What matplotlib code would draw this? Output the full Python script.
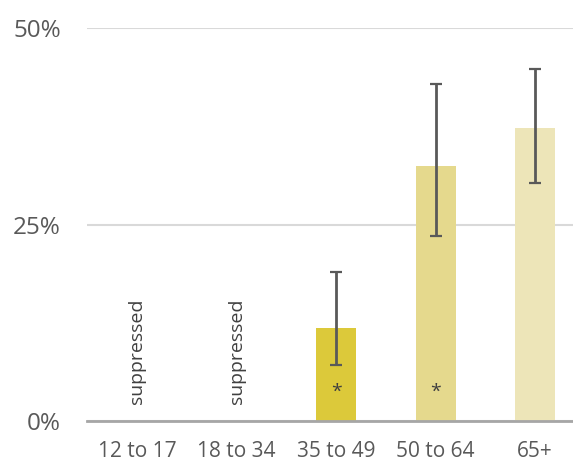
import matplotlib
matplotlib.use("Agg")
import matplotlib.pyplot as plt
import numpy as np

categories = ["12 to 17", "18 to 34", "35 to 49", "50 to 64", "65+"]
values = [np.nan, np.nan, 11.8, 32.4, 37.2]
err_low = [np.nan, np.nan, 7.1, 23.6, 30.3]
err_high = [np.nan, np.nan, 19.0, 42.8, 44.8]
suppressed = [True, True, False, False, False]
flagged = [False, False, True, True, False]
bar_colors = ["#DCC93A", "#DCC93A", "#DCC93A", "#E5D98D", "#EDE5B8"]
yticks = [0, 25, 50]
ytick_labels = ["0%", "25%", "50%"]

plt.rcParams['font.family'] = ['Open Sans', 'DejaVu Sans']
W, H = 573, 472
fig = plt.figure(figsize=(W/100, H/100), dpi=100)
left, right, y0, y50 = 86.7, 573, 421.3, 27.7
ax = fig.add_axes([left/W, 1 - y0/H, (right-left)/W, (y0-y50)/H])

x = np.arange(len(categories))
vals = np.array(values, dtype=float)
lo = np.array(err_low, dtype=float)
hi = np.array(err_high, dtype=float)
ax.bar(x, np.nan_to_num(vals), width=0.4, color=bar_colors, zorder=2)
mask = ~np.isnan(vals)
ax.errorbar(x[mask], vals[mask], yerr=[vals[mask]-lo[mask], hi[mask]-vals[mask]],
            fmt='none', ecolor="#595959", elinewidth=2, capsize=4.4, capthick=1.6, zorder=3)

for i in range(len(categories)):
    if suppressed[i]:
        ax.text(x[i], 2.2, "suppressed", rotation=90, ha='center', va='bottom',
                fontsize=14, color="#404040")
    if flagged[i]:
        ax.text(x[i], 3.8, "*", ha='center', va='center', fontsize=14, color="#404040")

ax.set_xlim(-0.505, 4.38)
ax.set_ylim(0, 50)
ax.set_yticks(yticks)
ax.set_yticklabels(ytick_labels)
ax.set_xticks(x)
ax.set_xticklabels(categories)
ax.tick_params(axis='y', length=0, labelsize=17.5, colors="#595959", pad=18.5)
ax.tick_params(axis='x', length=0, labelsize=15, colors="#595959", pad=14)
for s in ['top', 'right', 'left']:
    ax.spines[s].set_visible(False)
ax.spines['bottom'].set_color("#A6A6A6")
ax.spines['bottom'].set_linewidth(2)
ax.spines['bottom'].set_zorder(4)
ax.yaxis.grid(True, color="#D9D9D9", linewidth=1.5, zorder=0)
ax.set_axisbelow(True)

fig.savefig("out.png", dpi=100)
